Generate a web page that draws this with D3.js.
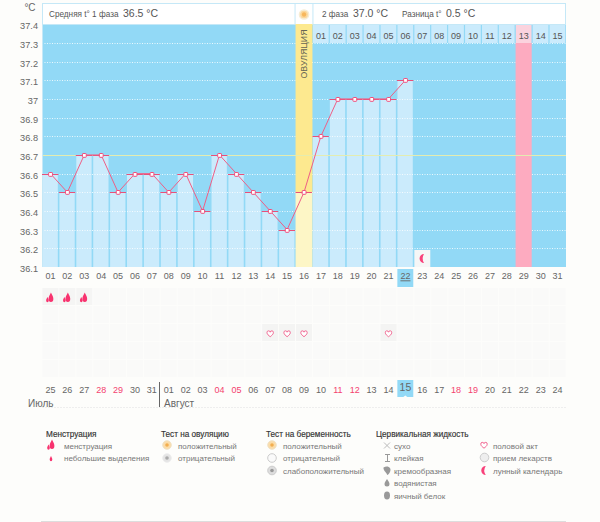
<!DOCTYPE html>
<html><head><meta charset="utf-8">
<script src="https://cdn.jsdelivr.net/npm/d3@7"></script>
<style>html,body{margin:0;padding:0;background:#fdfdfb}svg{display:block}text{font-family:"Liberation Sans","Noto Sans",sans-serif}.domain,.tick line{display:none}</style>
</head><body><svg id="c" width="600" height="522"></svg>
<script>
const days=d3.range(1,32).map(d=>String(d).padStart(2,"0"));
const temps=[36.6,36.5,36.7,36.7,36.5,36.6,36.6,36.5,36.6,36.4,36.7,36.6,36.5,36.4,36.3,36.5,36.8,37,37,37,37,37.1];
const tempTicks=[37.4,37.3,37.2,37.1,37,36.9,36.8,36.7,36.6,36.5,36.4,36.3,36.2,36.1];
const cycleDays=["01","02","03","04","05","06","07","08","09","10","11","12","13","14","15"];
const calendar=["25","26","27","28","29","30","31","01","02","03","04","05","06","07","08","09","10","11","12","13","14","15","16","17","18","19","20","21","22","23","24"];
const weekendIdx=[3,4,10,11,17,18,24,25];
const menstruationDays=["01","02","03"];
const intercourseDays=["14","15","16","21"];
const moonDays=["23"];
const ovulationDay="16",fertileDay="29",todayDay="22",coverTemp=36.7;
const headerLeft=["Средняя t° 1 фаза","36.5 °C"];
const headerRight=[["2 фаза","37.0 °C"],["Разница t°","0.5 °C"]];

const svg=d3.select("#c");
const x=d3.scaleBand().domain(days).range([42,566]);
const y=d3.scaleLinear().domain([36.1,37.4]).range([267,24.2]);
const bw=x.bandwidth();

svg.append("rect").attr("x",42).attr("y",24).attr("width",524).attr("height",243).attr("fill","#92d9f6");
svg.append("rect").attr("x",42.5).attr("y",3.5).attr("width",523).attr("height",21).attr("fill","#fff").attr("stroke","#c5e8f7");
svg.append("g").selectAll("rect").data(temps).join("rect")
 .attr("x",(d,i)=>x(days[i])+.5).attr("width",bw-1.6)
 .attr("y",d=>y(d)).attr("height",d=>y(36.1)-y(d)).attr("fill","#cbebfc");
svg.append("g").selectAll("line").data(tempTicks.slice(1,-1)).join("line")
 .attr("x1",42).attr("x2",566).attr("y1",d=>Math.round(y(d))+.5).attr("y2",d=>Math.round(y(d))+.5)
 .attr("stroke","#fff").attr("stroke-dasharray","1 1.5").attr("stroke-opacity",.8);
svg.append("rect").attr("x",x(fertileDay)+.3).attr("width",bw-.8).attr("y",43).attr("height",224).attr("fill","#fdabc0");
const ox=x(ovulationDay);
const oi=days.indexOf(ovulationDay);
svg.append("rect").attr("x",ox).attr("width",bw).attr("y",24).attr("height",y(temps[oi])-24).attr("fill","#fde98f");
svg.append("rect").attr("x",ox).attr("width",bw).attr("y",y(temps[oi])).attr("height",y(36.1)-y(temps[oi])).attr("fill","#fdf6c6");
const cd=svg.append("g").selectAll("g").data(cycleDays).join("g");
const cdBand=i=>x(days[oi+1+i]);
cd.append("rect").attr("x",(d,i)=>cdBand(i)+.5).attr("width",bw-1.2).attr("y",25).attr("height",18)
 .attr("fill",(d,i)=>days[oi+1+i]===fertileDay?"#fbd3de":"#cbebfc");
cd.append("text").attr("x",(d,i)=>cdBand(i)+bw/2).attr("y",38.5).attr("text-anchor","middle").attr("font-size",9).attr("fill","#555").text(d=>d);
svg.append("line").attr("x1",42).attr("x2",566).attr("y1",Math.round(y(coverTemp))+.5).attr("y2",Math.round(y(coverTemp))+.5).attr("stroke","#e4ecb0");
svg.append("line").attr("x1",42.5).attr("x2",42.5).attr("y1",3).attr("y2",267).attr("stroke","#c5e8f7");
const ax=svg.append("g").attr("transform","translate(39,1.7)").call(d3.axisLeft(y).tickValues(tempTicks).tickFormat(String).tickSize(0).tickPadding(1));
ax.selectAll("text").attr("font-size",9.2).attr("fill","#666");
svg.append("text").attr("x",30).attr("y",10.5).attr("text-anchor","middle").attr("font-size",10).attr("fill","#666").text("°C");
const ht=(tx,a,b,bx)=>{svg.append("text").attr("x",tx).attr("y",17).attr("font-size",8.2).attr("fill","#555").text(a);
 svg.append("text").attr("x",bx).attr("y",17).attr("font-size",10.5).attr("fill","#555").text(b);};
ht(49,headerLeft[0],headerLeft[1],123);
ht(322,headerRight[0][0],headerRight[0][1],353);
ht(402,headerRight[1][0],headerRight[1][1],446);
svg.append("rect").attr("x",ox).attr("width",bw).attr("y",4).attr("height",20).attr("fill","#fff");
svg.append("circle").attr("cx",ox+8.5).attr("cy",14.5).attr("r",4.6).attr("fill","#fbd79a").attr("stroke","#f6ecd4").attr("stroke-width",1.5);
svg.append("circle").attr("cx",ox+8.5).attr("cy",14.5).attr("r",2.2).attr("fill","#f7b75c");
svg.append("line").attr("x1",ox-.5).attr("x2",ox-.5).attr("y1",3).attr("y2",24).attr("stroke","#c5e8f7");
svg.append("line").attr("x1",ox+bw+.5).attr("x2",ox+bw+.5).attr("y1",3).attr("y2",24).attr("stroke","#c5e8f7");
svg.append("text").attr("transform",`translate(${ox+bw/2+3},54) rotate(-90)`).attr("text-anchor","middle").attr("font-size",8.8).attr("fill","#665").text("ОВУЛЯЦИЯ");
const cx=(d,i)=>x(days[i])+bw/2;
svg.append("g").selectAll("line").data(temps).join("line")
 .attr("x1",(d,i)=>x(days[i])).attr("x2",(d,i)=>x(days[i])+bw-.5)
 .attr("y1",d=>Math.round(y(d))+.5).attr("y2",d=>Math.round(y(d))+.5).attr("stroke","#e8507a");
svg.append("path").datum(temps).attr("fill","none").attr("stroke","#ef5f86")
 .attr("d",d3.line().x(cx).y(d=>y(d)));
svg.append("g").selectAll("rect").data(temps).join("rect")
 .attr("x",(d,i)=>cx(d,i)-1.8).attr("y",d=>Math.round(y(d))-1.5).attr("width",3.8).attr("height",3.8).attr("rx",.6)
 .attr("fill","#fff").attr("stroke","#ef4f7d").attr("stroke-width",1);
svg.append("rect").attr("x",x(todayDay)+.4).attr("y",269).attr("width",bw-1).attr("height",18).attr("fill","#92d9f6");
const xa=svg.append("g").attr("transform","translate(0,268)").call(d3.axisBottom(x).tickSize(0).tickPadding(5));
xa.selectAll("text").attr("font-size",9).attr("fill","#666").attr("text-decoration",d=>d===todayDay?"underline":null);
const moon=(g,cx,cy,r)=>{g.append("path").attr("transform",`translate(${cx},${cy})`).attr("fill","#f8417a")
 .attr("d",`M${r*.5},${-r}A${r},${r} 0 1 0 ${r*.5},${r}A${r*1.8},${r*1.8} 0 0 1 ${r*.5},${-r}Z`);};
moonDays.forEach(d=>{svg.append("rect").attr("x",x(d)+.5).attr("y",250).attr("width",bw-1).attr("height",17).attr("fill","#f6f6f6");
 moon(svg,x(d)+bw/2-.5,258.5,4.5);});
const rowY=[288,306,324,342,360];
const cells=svg.append("g");
rowY.forEach(ry=>days.forEach(d=>{cells.append("rect").attr("x",x(d)+.5).attr("y",ry).attr("width",bw-1).attr("height",17).attr("fill","#fafaf9");}));
const drop=(g,cx,cy,s)=>g.append("path").attr("transform",`translate(${cx},${cy}) scale(${s*.8},${s*1.1})`).attr("fill","#f8336f")
 .attr("d","M0,-4C1,-2 3,-.5 3,1.5A3,3 0 0 1 -3,1.5C-3,-.5 -1,-2 0,-4Z");
const heart=(g,cx,cy)=>g.append("path").attr("transform",`translate(${cx},${cy})`).attr("fill","#fff").attr("stroke","#f26a94")
 .attr("d","M0,3.2C-1.5,2 -3.2,.8 -3.2,-.8A1.6,1.6 0 0 1 0,-1.3A1.6,1.6 0 0 1 3.2,-.8C3.2,.8 1.5,2 0,3.2Z");
menstruationDays.forEach(d=>{const c=x(d)+bw/2;
 svg.append("rect").attr("x",x(d)+.5).attr("y",288).attr("width",bw-1).attr("height",17).attr("fill","#f5f5f4");
 drop(svg,c+.5,297,1);drop(svg,c-3,299.5,.55);});
intercourseDays.forEach(d=>{svg.append("rect").attr("x",x(d)+.5).attr("y",324).attr("width",bw-1).attr("height",17).attr("fill","#f4f4f3");
 heart(svg,x(d)+bw/2,333.5);});
const cal=svg.append("g");
const ti=days.indexOf("22");
cal.append("path").attr("fill","#92d9f6").attr("d",(()=>{const a=x(days[ti])+.4,b=a+bw-1,m=a+(b-a)/2;return `M${a},380H${b}V397H${m+2}L${m},395.5L${m-2},397H${a}Z`;})());
cal.selectAll("text").data(calendar).join("text").attr("x",(d,i)=>x(days[i])+bw/2).attr("y",(d,i)=>i===ti?391:392.5)
 .attr("text-anchor","middle").attr("font-size",(d,i)=>i===ti?10.5:9)
 .attr("fill",(d,i)=>weekendIdx.includes(i)?"#f4426f":"#666").text(d=>d);
const divX=Math.round(x(days[calendar.indexOf("01")]))-1.5;
svg.append("line").attr("x1",divX+1).attr("x2",divX+1).attr("y1",382).attr("y2",407).attr("stroke","#666");
svg.append("line").attr("x1",42).attr("x2",566).attr("y1",407.5).attr("y2",407.5).attr("stroke","#eee").attr("stroke-dasharray","2 1");
svg.append("text").attr("x",28).attr("y",406.5).attr("font-size",10).attr("fill","#666").text("Июль");
svg.append("text").attr("x",164).attr("y",406.5).attr("font-size",10).attr("fill","#666").text("Август");
svg.append("line").attr("x1",41).attr("x2",566).attr("y1",521.5).attr("y2",521.5).attr("stroke","#ddd");

const legendHeads=[["Менструация",46],["Тест на овуляцию",161],["Тест на беременность",266],["Цервикальная жидкость",376]];
const legendMens=["менструация","небольшие выделения"];
const legendOvu=["положительный","отрицательный"];
const legendPreg=["положительный","отрицательный","слабоположительный"];
const legendFluid=["сухо","клейкая","кремообразная","водянистая","яичный белок"];
const legendOther=["половой акт","прием лекарств","лунный календарь"];
const rowYs=[448.7,461.2,473.7,486.2,498.5];
legendHeads.forEach(([t,lx])=>svg.append("text").attr("x",lx).attr("y",436.5).attr("font-size",8.2).attr("fill","#333").attr("stroke","#333").attr("stroke-width",.15).text(t));
const items=(arr,tx)=>arr.forEach((t,i)=>svg.append("text").attr("x",tx).attr("y",rowYs[i]).attr("font-size",8).attr("fill","#777").text(t));
items(legendMens,64);items(legendOvu,178);items(legendPreg,283);items(legendFluid,394);items(legendOther,493);
drop(svg,52,444,1);drop(svg,48.5,447,.55);drop(svg,51,458.5,.55);
const ball=(cx,cy,f,s,inner)=>{svg.append("circle").attr("cx",cx).attr("cy",cy).attr("r",4.3).attr("fill",f).attr("stroke",s);
 if(inner)svg.append("circle").attr("cx",cx).attr("cy",cy).attr("r",1.8).attr("fill",inner);};
ball(167,445,"#fbdca8","#f0e3c8","#f2ae4f");ball(167,458,"#e4e4e4","#eee","#aaa");
ball(272,445,"#fbdca8","#f0e3c8","#f2ae4f");ball(272,458,"#fafafa","#ccc");ball(272,470.5,"#ddd","#ccc","#999");
const g="#999";
svg.append("path").attr("d","M384,442.5L390,448.5M390,442.5L384,448.5").attr("stroke","#bbb").attr("fill","none");
svg.append("path").attr("d","M385,454.5H390M387.5,454.5V461.5M385,461.5H390").attr("stroke",g).attr("fill","none");
svg.append("path").attr("d","M383.5,467.5C388,465 392,468 390,472C389,474 388,475 387,475C387.5,473 383,471 383.5,467.5Z").attr("fill",g);
svg.append("path").attr("d","M387,479C388,481 389.5,482 389.5,484A2.5,2.5 0 0 1 384.5,484C384.5,482 386,481 387,479Z").attr("fill",g);
svg.append("ellipse").attr("cx",387).attr("cy",495.5).attr("rx",3).attr("ry",4).attr("fill",g);
heart(svg,484,445);
ball(484.5,457.5,"#eee","#ccc");
moon(svg,483.5,470.5,4.5);
</script></body></html>
